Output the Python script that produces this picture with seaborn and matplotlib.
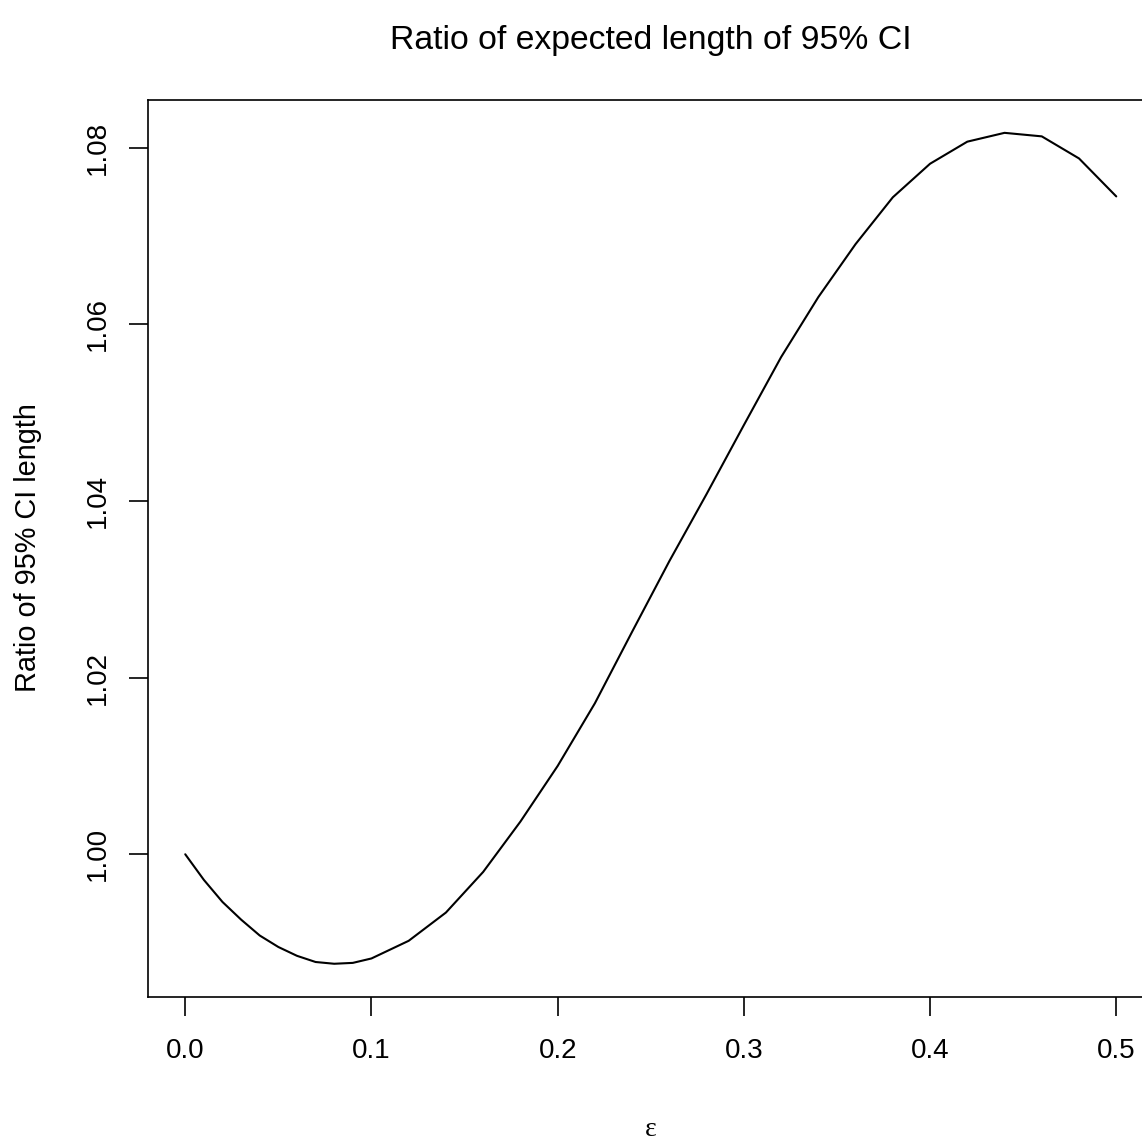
import numpy as np
import pandas as pd
import matplotlib
matplotlib.use('Agg')
import matplotlib.pyplot as plt
import seaborn as sns

# values
eps = [0.00, 0.01, 0.02, 0.03, 0.04, 0.05, 0.06, 0.07, 0.08, 0.09, 0.10,
       0.12, 0.14, 0.16, 0.18, 0.20, 0.22, 0.24, 0.26, 0.28, 0.30,
       0.32, 0.34, 0.36, 0.38, 0.40, 0.42, 0.44, 0.46, 0.48, 0.50]
ratio = [1.0000, 0.9971, 0.9946, 0.9926, 0.9908, 0.9895, 0.9885, 0.9878, 0.9876, 0.9877, 0.9882,
         0.9902, 0.9934, 0.9980, 1.0037, 1.0100, 1.0171, 1.0252, 1.0332, 1.0408, 1.0486,
         1.0563, 1.0631, 1.0691, 1.0744, 1.0782, 1.0807, 1.0817, 1.0813, 1.0788, 1.0745]
x_ticks = [0.0, 0.1, 0.2, 0.3, 0.4, 0.5]
y_ticks = [1.00, 1.02, 1.04, 1.06, 1.08]

df = pd.DataFrame({'eps': eps, 'ratio': ratio})

sns.set_theme(style='white')
plt.rcParams['font.family'] = ['Liberation Sans', 'DejaVu Sans']
plt.rcParams['text.color'] = 'black'

W, H = 1142, 1143
fig = plt.figure(figsize=(W / 100, H / 100), dpi=100)
# R-style box, right edge runs slightly past the canvas like the original
ax = fig.add_axes([148 / W, 1 - 997 / H, 1005.5 / W, 897.4 / H])

sns.lineplot(data=df, x='eps', y='ratio', ax=ax, color='black', linewidth=1.5)

# R pads the data range by 4% on each side
ypad = 0.04 * (max(ratio) - min(ratio))
ax.set_xlim(-0.02, 0.52)
ax.set_ylim(min(ratio) - ypad, max(ratio) + ypad)
ax.set_xticks(x_ticks)
ax.set_xticklabels([f'{v:.1f}' for v in x_ticks])
ax.set_yticks(y_ticks)
ax.set_yticklabels([f'{v:.2f}' for v in y_ticks], rotation=90, va='center')
ax.tick_params(axis='both', direction='out', length=13.5, width=1.2, color='black',
               labelsize=20, labelcolor='black', bottom=True, left=True)
ax.tick_params(axis='x', pad=16)
ax.tick_params(axis='y', pad=13.5)
for s in ax.spines.values():
    s.set_color('black')
    s.set_linewidth(1.2)

ax.set_xlabel('')
ax.set_ylabel('')
fig.text(650.8 / W, 1 - 1129 / H, 'ε', family='Liberation Serif', fontsize=20,
         ha='center', va='center')
fig.text(28 / W, 1 - 548 / H, 'Ratio of 95% CI length', fontsize=20.8,
         rotation=90, ha='center', va='center')
fig.text(650.8 / W, 1 - 40 / H, 'Ratio of expected length of 95% CI',
         ha='center', va='center', fontsize=24.3)

fig.savefig('out.png', dpi=100, facecolor='white')
